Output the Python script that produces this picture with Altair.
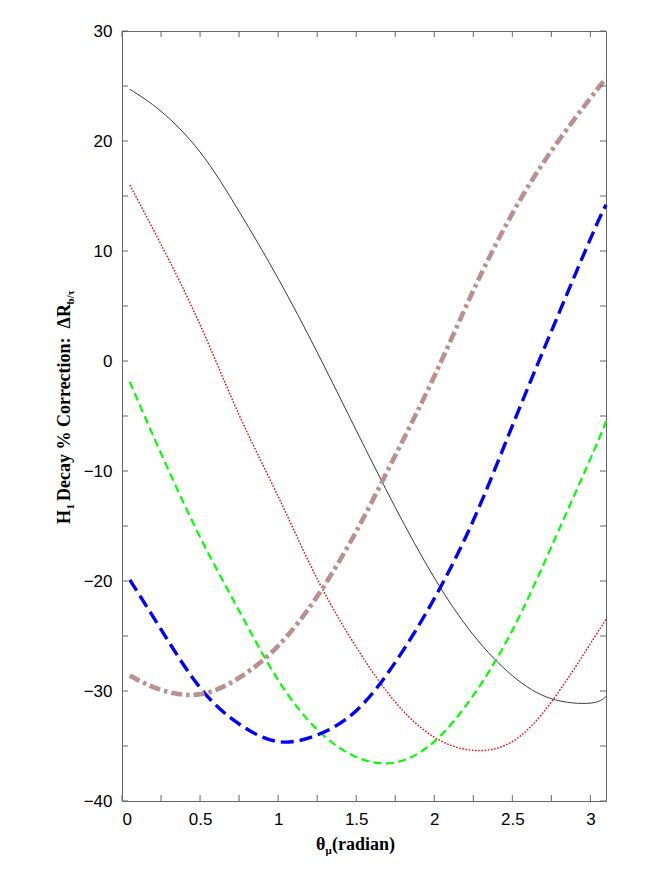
import altair as alt
import pandas as pd

# x grid (radian) and series values
theta = [0.05, 0.25, 0.5, 0.75, 1.0, 1.25, 1.5, 1.75, 2.0, 2.25, 2.5, 2.75, 3.0, 3.1]
black_solid = [24.7, 22.7, 19.0, 13.6, 7.5, 0.8, -6.3, -13.3, -19.7, -24.9, -28.6, -30.7, -31.1, -30.5]
red_dotted = [16.0, 10.6, 3.3, -4.9, -12.3, -19.8, -26.0, -31.0, -34.2, -35.4, -34.6, -31.0, -25.7, -23.5]
green_dashed = [-1.9, -8.4, -16.0, -22.7, -29.0, -33.5, -36.0, -36.5, -34.6, -30.4, -24.5, -16.9, -8.9, -5.5]
blue_longdash = [-19.9, -24.4, -29.7, -33.0, -34.6, -34.0, -31.8, -27.4, -21.6, -14.5, -5.9, 2.7, 11.1, 14.2]
brown_dashdot = [-28.6, -29.9, -30.3, -28.8, -25.9, -21.4, -15.5, -8.6, -1.4, 6.4, 13.4, 19.1, 23.9, 25.7]

x_label_values = [0, 0.5, 1, 1.5, 2, 2.5, 3]
x_tick_values = [0, 0.25, 0.5, 0.75, 1, 1.25, 1.5, 1.75, 2, 2.25, 2.5, 2.75, 3]
y_label_values = [-40, -30, -20, -10, 0, 10, 20, 30]
y_tick_values = [-40, -35, -30, -25, -20, -15, -10, -5, 0, 5, 10, 15, 20, 25, 30]

series = {
    "black": black_solid,
    "red": red_dotted,
    "green": green_dashed,
    "blue": blue_longdash,
    "brown": brown_dashdot,
}
rows = []
for name, vals in series.items():
    for t, v in zip(theta, vals):
        rows.append({"series": name, "theta": t, "value": v})
df = pd.DataFrame(rows)
xt = pd.DataFrame({"theta": x_tick_values})
yt = pd.DataFrame({"value": y_tick_values})

W, H = 484, 770
TICK = 6
xscale = alt.Scale(domain=[0, 3.1], nice=False, zero=False)
yscale = alt.Scale(domain=[-40, 30], nice=False, zero=False)

TICK_COLOR = "#666666"
LABEL_FONT = "Liberation Sans"

ax_x = alt.Axis(orient="bottom", values=x_label_values, format="~g", title=None,
                ticks=False, domain=False, grid=False, labelFont=LABEL_FONT,
                labelFontSize=17, labelColor="black", labelPadding=10)
ax_y = alt.Axis(orient="left", values=y_label_values, format="d", title=None,
                ticks=False, domain=False, grid=False, labelFont=LABEL_FONT,
                labelFontSize=17, labelColor="black", labelPadding=10)

X = alt.X("theta:Q", scale=xscale, axis=ax_x)
Y = alt.Y("value:Q", scale=yscale, axis=ax_y)

styles = {
    "black": dict(color="#222222", strokeWidth=0.9),
    "red": dict(color="#ff0000", strokeWidth=1.4, strokeDash=[1.6, 1.6]),
    "green": dict(color="#00ff00", strokeWidth=2.2, strokeDash=[8, 4.5]),
    "blue": dict(color="#0000ff", strokeWidth=3.4, strokeDash=[13, 6]),
    "brown": dict(color="#bc8f8f", strokeWidth=4.6, strokeDash=[11, 4, 3.5, 4]),
}

layers = []
for name in ["black", "red", "green", "blue", "brown"]:
    layers.append(
        alt.Chart(df)
        .transform_filter(alt.datum.series == name)
        .mark_line(interpolate="natural", strokeCap="butt", **styles[name])
        .encode(x=X, y=Y)
    )

# inward tick marks on all four sides
tick_style = dict(color=TICK_COLOR, strokeWidth=1)
layers += [
    alt.Chart(xt).mark_rule(**tick_style).encode(x=X, y=alt.value(H), y2=alt.value(H - TICK)),
    alt.Chart(xt).mark_rule(**tick_style).encode(x=X, y=alt.value(0), y2=alt.value(TICK)),
    alt.Chart(yt).mark_rule(**tick_style).encode(y=Y, x=alt.value(0), x2=alt.value(TICK)),
    alt.Chart(yt).mark_rule(**tick_style).encode(y=Y, x=alt.value(W), x2=alt.value(W - TICK)),
]

one = pd.DataFrame({"a": [0]})
TITLE_FONT = "Liberation Serif"

def txt(s, x, y, size=18, angle=0):
    return alt.Chart(one).mark_text(
        text=s, font=TITLE_FONT, fontWeight="bold", fontSize=size, color="black",
        align="left", baseline="alphabetic", angle=angle,
    ).encode(x=alt.value(x), y=alt.value(y))

# x-axis title: theta_mu(radian)
layers += [
    txt("θ", 194, 819),
    txt("μ", 203.5, 823, size=11),
    txt("(radian)", 210, 819),
]
# y-axis title: H_1 Decay % Correction:  ΔR_{b/τ}  (reads bottom to top)
NB = "\u00a0"
yx = -52
layers += [
    txt("H", yx, 493, size=18, angle=270),
    txt("1", yx + 4, 478.5, size=11, angle=270),
    txt(NB + "Decay" + NB + "%" + NB + "Correction:" + NB + NB + "ΔR", yx, 470, size=18, angle=270),
    txt("b/τ", yx + 4, 273.5, size=11, angle=270),
]

chart = (
    alt.layer(*layers)
    .properties(
        width=W, height=H,
        autosize=alt.AutoSizeParams(type="none"),
        padding={"left": 114, "top": 23, "right": 30, "bottom": 55},
    )
    .configure_view(stroke="#666666", strokeWidth=1)
)

chart.save("out.html", embed_options={"renderer": "svg", "actions": False})
